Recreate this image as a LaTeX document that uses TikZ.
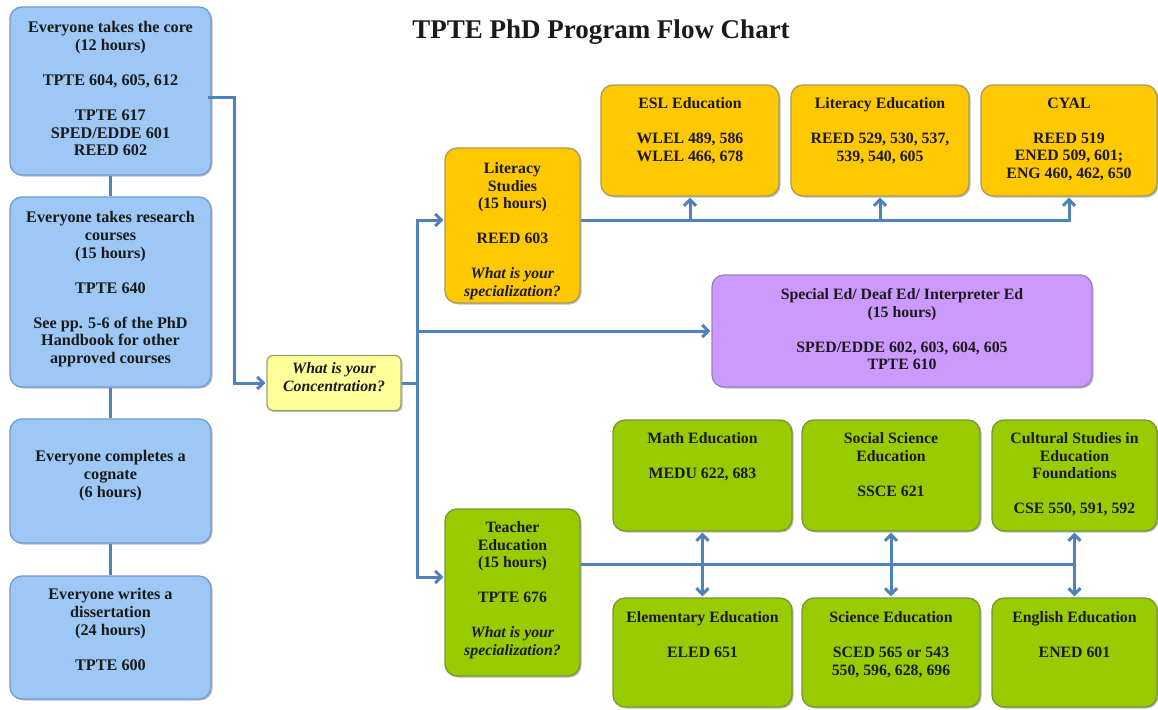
\documentclass[tikz,border=0pt]{standalone}
\usepackage{fontspec}
\setmainfont{Liberation Serif}
\usetikzlibrary{arrows.meta,shadows}
\definecolor{bluef}{HTML}{9DC8F5}
\definecolor{blued}{HTML}{6E9BD0}
\definecolor{goldf}{HTML}{FFC800}
\definecolor{goldd}{HTML}{A89A5C}
\definecolor{greenf}{HTML}{99CC00}
\definecolor{greend}{HTML}{77953A}
\definecolor{purpf}{HTML}{CC99FF}
\definecolor{purpd}{HTML}{9A80BE}
\definecolor{yelf}{HTML}{FFFF99}
\definecolor{yeld}{HTML}{A0A070}
\definecolor{conn}{HTML}{4F81BD}
\definecolor{ink}{HTML}{1A1A1A}
\begin{document}
\begin{tikzpicture}[x=1pt,y=-1pt,
  box/.style={rounded corners=12pt, line width=1.3pt, inner sep=0pt,
    drop shadow={shadow xshift=1.5pt,shadow yshift=-1.5pt,fill=black,opacity=0.25}},
  bluebox/.style={box,fill=bluef,draw=blued},
  goldbox/.style={box,fill=goldf,draw=goldd},
  greenbox/.style={box,fill=greenf,draw=greend},
  purpbox/.style={box,fill=purpf,draw=purpd},
  yelbox/.style={box,rounded corners=6pt,fill=yelf,draw=yeld},
  txt/.style={font=\bfseries\fontsize{15.8}{17.5}\selectfont, text=ink, align=center, inner sep=0pt, anchor=north},
  ltxt/.style={txt,font=\bfseries\fontsize{16.2}{17.6}\selectfont},
  line/.style={draw=conn, line width=3pt},
  arr/.style={line, shorten >=1pt, -{Straight Barb[length=6pt,width=12pt]}},
  arr2/.style={line, shorten >=1pt, shorten <=1pt, {Straight Barb[length=6pt,width=12pt]}-{Straight Barb[length=6pt,width=12pt]}},
]
\clip (0,0) rectangle (1158,709);
\fill[white] (0,0) rectangle (1158,709);

% title
\node[font=\bfseries\fontsize{27}{30}\selectfont, text=ink] (title) at (601,32) {TPTE PhD Program Flow Chart};

% left column
\node[bluebox, minimum width=201pt, minimum height=168pt] (b1) at (110.5,91) {};
\node[bluebox, minimum width=201pt, minimum height=190pt] (b2) at (110.5,292) {};
\node[bluebox, minimum width=201pt, minimum height=124pt] (b3) at (110.5,481) {};
\node[bluebox, minimum width=201pt, minimum height=123pt] (b4) at (110.5,637.5) {};

% concentration
\node[yelbox, minimum width=134pt, minimum height=55pt] (conc) at (334,383) {};

% literacy
\node[goldbox, minimum width=135pt, minimum height=155pt] (lit) at (512.5,225.5) {};
\node[goldbox, minimum width=178pt, minimum height=111pt] (esl) at (690,140.5) {};
\node[goldbox, minimum width=178pt, minimum height=111pt] (lited) at (880,140.5) {};
\node[goldbox, minimum width=176pt, minimum height=111pt] (cyal) at (1069,140.5) {};

% special ed
\node[purpbox, minimum width=380pt, minimum height=112pt] (spec) at (902,331) {};

% teacher ed
\node[greenbox, minimum width=135pt, minimum height=167pt] (teach) at (512.5,592.5) {};
\node[greenbox, minimum width=179pt, minimum height=111pt] (math) at (702.5,475.5) {};
\node[greenbox, minimum width=178pt, minimum height=111pt] (soc) at (891,475.5) {};
\node[greenbox, minimum width=165pt, minimum height=111pt] (cult) at (1074.5,475.5) {};
\node[greenbox, minimum width=179pt, minimum height=109pt] (elem) at (702.5,652.5) {};
\node[greenbox, minimum width=178pt, minimum height=109pt] (sci) at (891,652.5) {};
\node[greenbox, minimum width=165pt, minimum height=109pt] (eng) at (1074.5,652.5) {};

% texts
\node[ltxt] (b1t) at (110.5,21.5) {Everyone takes the core\\(12 hours)\\[17.5pt]TPTE 604, 605, 612\\[17.5pt]TPTE 617\\SPED/EDDE 601\\REED 602};
\node[ltxt] (b2t) at (110.5,211.5) {Everyone takes research\\courses\\(15 hours)\\[17.5pt]TPTE 640\\[17.5pt]See pp. 5-6 of the PhD\\Handbook for other\\approved courses};
\node[ltxt] (b3t) at (110.5,450.5) {Everyone completes a\\cognate\\(6 hours)};
\node[ltxt] (b4t) at (110.5,588.5) {Everyone writes a\\dissertation\\(24 hours)\\[17.5pt]TPTE 600};
\node[txt] (conct) at (334,362.5) {\textit{What is your}\\\textit{Concentration?}};
\node[txt] (litt) at (512.5,162.5) {Literacy\\Studies\\(15 hours)\\[17.5pt]REED 603\\[17.5pt]\textit{What is your}\\\textit{specialization?}};
\node[txt] (eslt) at (690,97.5) {ESL Education\\[17.5pt]WLEL 489, 586\\WLEL 466, 678};
\node[txt] (litedt) at (880,97.5) {Literacy Education\\[17.5pt]REED 529, 530, 537,\\539, 540, 605};
\node[txt] (cyalt) at (1069,97.5) {CYAL\\[17.5pt]REED 519\\ENED 509, 601;\\ENG 460, 462, 650};
\node[txt] (spect) at (902,288.5) {Special Ed/ Deaf Ed/ Interpreter Ed\\(15 hours)\\[17.5pt]SPED/EDDE 602, 603, 604, 605\\TPTE 610};
\node[txt] (teacht) at (512.5,521.5) {Teacher\\Education\\(15 hours)\\[17.5pt]TPTE 676\\[17.5pt]\textit{What is your}\\\textit{specialization?}};
\node[txt] (matht) at (702.5,432.5) {Math Education\\[17.5pt]MEDU 622, 683};
\node[txt] (soct) at (891,432.5) {Social Science\\Education\\[17.5pt]SSCE 621};
\node[txt] (cultt) at (1074.5,432.5) {Cultural Studies in\\Education\\Foundations\\[17.5pt]CSE 550, 591, 592};
\node[txt] (elemt) at (702.5,611.5) {Elementary Education\\[17.5pt]ELED 651};
\node[txt] (scit) at (891,611.5) {Science Education\\[17.5pt]SCED 565 or 543\\550, 596, 628, 696};
\node[txt] (engt) at (1074.5,611.5) {English Education\\[17.5pt]ENED 601};

% connectors left column
\draw[line] (b1) -- (b2);
\draw[line] (b2) -- (b3);
\draw[line] (b3) -- (b4);
\draw[arr] ([yshift=-6pt,xshift=-4pt]b1.east) -| ([xshift=-32pt]conc.west) -- (conc.west);

% trunk
\coordinate (tr) at (417,383);
\draw[line] (conc.east) -- (tr);
\draw[arr] (tr) |- ([yshift=5.5pt]lit.west);
\draw[arr] (tr) |- (spec.west);
\draw[arr] (tr) |- ([yshift=15.5pt]teach.west);

% literacy branch
\coordinate (lj) at ([yshift=5.5pt]lit.east);
\draw[arr] (lj) -| (cyal.south);
\draw[arr] (lj -| esl.south) -- (esl.south);
\draw[arr] (lj -| lited.south) -- (lited.south);

% teacher branch
\coordinate (tj) at ([yshift=28.5pt]teach.east);
\draw[arr] (tj) -| (eng.north);
\draw[arr] (tj -| cult.south) -- (cult.south);
\draw[arr2] (math.south) -- (elem.north);
\draw[arr2] (soc.south) -- (sci.north);
\end{tikzpicture}
\end{document}
